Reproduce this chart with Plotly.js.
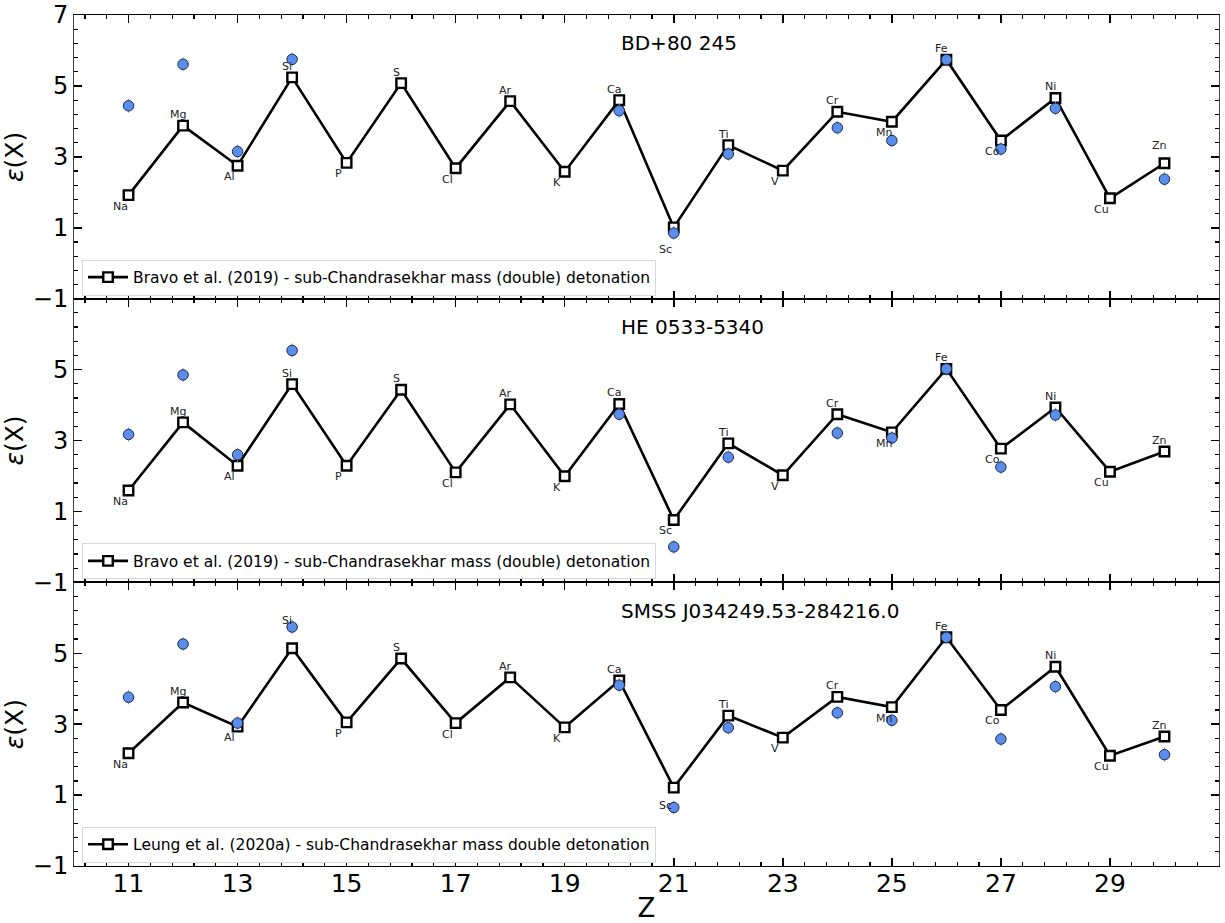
<!DOCTYPE html>
<html>
<head>
<meta charset="utf-8">
<script src="https://cdn.plot.ly/plotly-3.0.1.min.js"></script>
<style>
html,body{margin:0;padding:0;background:#fff;}
#chart{width:1225px;height:923px;}
</style>
</head>
<body>
<div id="chart"></div>
<script>
// ---- data ----
const Z = [11,12,13,14,15,16,17,18,19,20,21,22,23,24,25,26,27,28,29,30];
const elements = ['Na','Mg','Al','Si','P','S','Cl','Ar','K','Ca','Sc','Ti','V','Cr','Mn','Fe','Co','Ni','Cu','Zn'];

const panelTitles = ['BD+80 245', 'HE 0533-5340', 'SMSS J034249.53-284216.0'];
const modelNames = [
  'Bravo et al. (2019) - sub-Chandrasekhar mass (double) detonation',
  'Bravo et al. (2019) - sub-Chandrasekhar mass (double) detonation',
  'Leung et al. (2020a) - sub-Chandrasekhar mass double detonation'
];

const model1 = [1.92,3.88,2.75,5.24,2.83,5.08,2.68,4.57,2.58,4.60,1.01,3.33,2.61,4.27,3.99,5.74,3.46,4.66,1.83,2.82];
const model2 = [1.59,3.51,2.29,4.59,2.29,4.43,2.10,4.02,1.99,4.03,0.76,2.92,2.02,3.74,3.23,5.02,2.77,3.93,2.12,2.69];
const model3 = [2.18,3.61,2.93,5.14,3.05,4.85,3.03,4.32,2.91,4.23,1.21,3.24,2.62,3.77,3.48,5.45,3.40,4.62,2.11,2.65];

const obs1 = [4.44,5.61,3.15,5.75,null,null,null,null,null,4.30,0.85,3.08,null,3.82,3.46,5.74,3.22,4.37,null,2.37];
const obs2 = [3.17,4.85,2.60,5.54,null,null,null,null,null,3.74,0.00,2.53,null,3.21,3.07,5.02,2.25,3.72,null,null];
const obs3 = [3.76,5.26,3.03,5.74,null,null,null,null,null,4.10,0.65,2.90,null,3.32,3.11,5.45,2.58,4.06,null,2.14];

const err1 = [0.2,0.2,0.2,0.2,null,null,null,null,null,0.2,0.2,0.2,null,0.2,0.2,0.2,0.2,0.2,null,0.2];
const err2 = [0.2,0.2,0.2,0.2,null,null,null,null,null,0.2,0.2,0.2,null,0.2,0.2,0.2,0.2,0.2,null,null];
const err3 = [0.2,0.2,0.2,0.2,null,null,null,null,null,0.2,0.2,0.2,null,0.2,0.2,0.2,0.2,0.2,null,0.2];

const yTicksTop = [-1, 1, 3, 5, 7];
const yTicksLower = [-1, 1, 3, 5];
const xTicks = [11, 13, 15, 17, 19, 21, 23, 25, 27, 29];

const models = [model1, model2, model3];
const obs = [obs1, obs2, obs3];
const errs = [err1, err2, err3];

// label vertical offsets (px) overrides per panel
const labelOverrides = [{Sc:-22, Zn:18}, {}, {Sc:-18, Si:28}];

// ---- build ----
const FONT = 'DejaVu Sans, Liberation Sans, sans-serif';
const traces = [];
const annotations = [];
const axisNames = [['x','y'],['x2','y2'],['x3','y3']];

for (let p = 0; p < 3; p++) {
  const [xa, ya] = axisNames[p];
  traces.push({
    x: Z, y: models[p], type: 'scatter', mode: 'lines+markers',
    xaxis: xa, yaxis: ya,
    name: modelNames[p],
    legend: p === 0 ? 'legend' : 'legend' + (p + 1),
    line: {color: '#000', width: 2.6},
    marker: {symbol: 'square', size: 9.5, color: '#fff', line: {color: '#000', width: 2.4}},
    cliponaxis: false
  });
  traces.push({
    x: Z, y: obs[p], type: 'scatter', mode: 'markers',
    xaxis: xa, yaxis: ya, showlegend: false,
    marker: {symbol: 'circle', size: 10.5, color: '#5b8def', line: {color: '#1a2a40', width: 1}},
    error_y: {type: 'data', array: errs[p], visible: true, color: '#7fa8f0', thickness: 1, width: 0}
  });
  // element labels
  for (let i = 0; i < Z.length; i++) {
    const el = elements[i];
    const above = (Z[i] % 2 === 0);
    let ys = above ? 11 : -11;
    if (labelOverrides[p][el] !== undefined) ys = labelOverrides[p][el];
    annotations.push({
      x: Z[i], y: models[p][i], xref: xa, yref: ya,
      text: el, showarrow: false,
      xshift: above ? -5 : -8, yshift: ys,
      font: {family: FONT, size: 11, color: '#222'}
    });
  }
  // panel title
  annotations.push({
    x: 20, y: 6.2, xref: xa, yref: ya, xanchor: 'left', yanchor: 'middle',
    text: panelTitles[p], showarrow: false,
    font: {family: FONT, size: 20, color: '#000'}
  });
}

function xAxis(anchor, showLabels) {
  return {
    anchor: anchor, range: [10, 31], tickmode: 'array', tickvals: xTicks,
    ticks: 'inside', ticklen: 8, tickwidth: 1.5, tickcolor: '#000',
    showticklabels: showLabels, ticklabelstandoff: -5, ticklabeloverflow: 'allow',
    tickfont: {family: FONT, size: 25, color: '#000'},
    showline: true, linecolor: '#000', linewidth: 1, mirror: 'allticks',
    showgrid: false, zeroline: false,
    minor: {tick0: 11, dtick: 0.4, ticks: 'inside', ticklen: 4, tickwidth: 1.2, tickcolor: '#000', showgrid: false}
  };
}
function yAxis(domain, anchor, vals) {
  return {
    domain: domain, anchor: anchor, range: [-1, 7],
    tickmode: 'array', tickvals: vals, ticklabeloverflow: 'allow',
    ticks: 'inside', ticklen: 8, tickwidth: 1.5, tickcolor: '#000',
    tickfont: {family: FONT, size: 24, color: '#000'},
    showline: true, linecolor: '#444', linewidth: 1, mirror: 'allticks',
    showgrid: false, zeroline: false,
    title: {text: '<i>ε</i>(X)', font: {family: FONT, size: 25, color: '#000'}, standoff: 10},
    minor: {tick0: -1, dtick: 0.4, ticks: 'inside', ticklen: 4, tickwidth: 1.2, tickcolor: '#000', showgrid: false}
  };
}

const legendBase = {
  x: 0.007, xanchor: 'left', yanchor: 'middle',
  bgcolor: '#fff', bordercolor: '#d8d8d8', borderwidth: 1,
  font: {family: FONT, size: 15.5, color: '#000'},
  itemwidth: 40, tracegroupgap: 0
};

const layout = {
  width: 1225, height: 923,
  margin: {l: 74, r: 6, t: 15, b: 57},
  paper_bgcolor: '#fff', plot_bgcolor: '#fff',
  font: {family: FONT},
  xaxis: xAxis('y', false),
  xaxis2: xAxis('y2', false),
  xaxis3: Object.assign(xAxis('y3', true), {title: {text: 'Z', font: {family: FONT, size: 26, color: '#000'}, standoff: 2}}),
  yaxis: yAxis([2/3, 1], 'x', yTicksTop),
  yaxis2: yAxis([1/3, 2/3], 'x2', yTicksLower),
  yaxis3: yAxis([0, 1/3], 'x3', yTicksLower),
  legend: Object.assign({}, legendBase, {y: 0.6915}),
  legend2: Object.assign({}, legendBase, {y: 0.358}),
  legend3: Object.assign({}, legendBase, {y: 0.025}),
  annotations: annotations,
  showlegend: true
};

Plotly.newPlot('chart', traces, layout, {displayModeBar: false, staticPlot: true});
</script>
</body>
</html>
